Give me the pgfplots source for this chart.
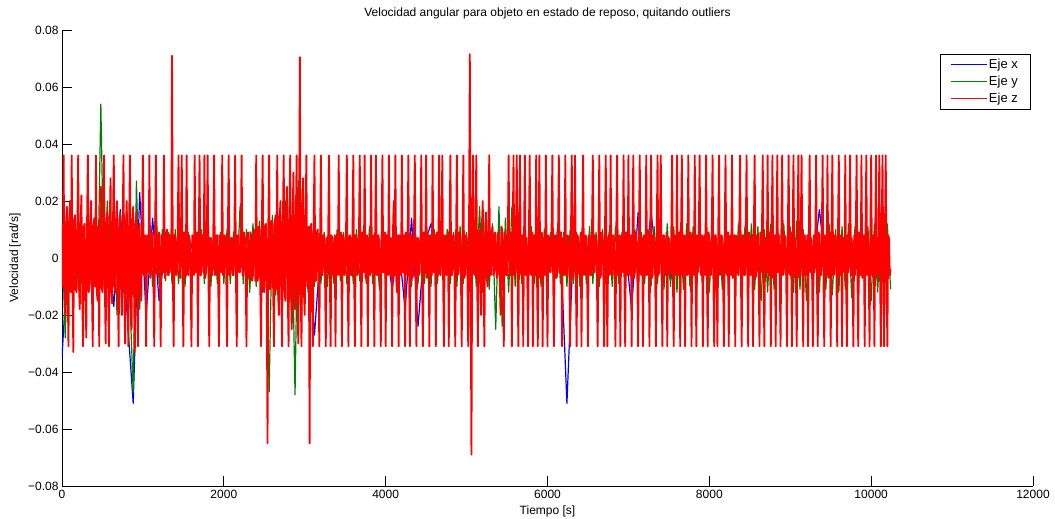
\documentclass[border=0pt]{standalone}
\usepackage{pgfplots}
\pgfplotsset{compat=1.18}
\usepackage{fontspec}
\setmainfont{Liberation Sans}
\definecolor{mblue}{rgb}{0,0,1}
\definecolor{mgreen}{rgb}{0,0.5,0}
\definecolor{mred}{rgb}{1,0,0}
\begin{document}
\begin{tikzpicture}
\path[use as bounding box] (-62bp,-33bp) rectangle (993bp,486bp);
\begin{axis}[
  at={(0,0)}, anchor=south west,
  scale only axis, width=971bp, height=456bp,
  xmin=0, xmax=12000, ymin=-0.08, ymax=0.08,
  scaled x ticks=false, scaled y ticks=false,
  axis x line*=bottom, axis y line*=left,
  axis line style={line width=0.8bp, black},
  tick align=inside,
  major tick length=10bp,
  tick style={line width=0.8bp, black},
  xtick={0,2000,4000,6000,8000,10000,12000},
  xticklabels={0,2000,4000,6000,8000,10000,12000},
  ytick={-0.08,-0.06,-0.04,-0.02,0,0.02,0.04,0.06,0.08},
  yticklabels={−0.08,−0.06,−0.04,−0.02,0,0.02,0.04,0.06,0.08},
  tick label style={font=\fontsize{12bp}{14bp}\selectfont},
  xticklabel style={yshift=-1bp},
  title={Velocidad angular para objeto en estado de reposo, quitando outliers},
  title style={at={(rel axis cs:0.5,1)}, anchor=center, yshift=11bp, font=\fontsize{12bp}{14bp}\selectfont},
  xlabel={Tiempo [s]},
  ylabel={Velocidad [rad/s]},
  every axis x label/.style={at={(rel axis cs:0.5,0)}, anchor=center, yshift=-25bp, font=\fontsize{12bp}{14bp}\selectfont},
  every axis y label/.style={at={(rel axis cs:0,0.5)}, anchor=center, xshift=-47bp, rotate=90, font=\fontsize{12bp}{14bp}\selectfont},
  legend style={at={(rel axis cs:0.997,0.947)}, anchor=north east, fill=white,
    font=\fontsize{13bp}{15bp}\selectfont, inner xsep=10bp, inner ysep=3bp, row sep=2bp, legend cell align=left},
  legend image code/.code={\draw[#1, line width=0.8bp] (0bp,0bp) -- (36bp,0bp);},
  every axis plot/.append style={line join=round, mark=none},
]
\addplot[color=mblue, draw=mblue, line width=1.2bp] coordinates {
(0,-0.035)(80,0.005)(160,-0.011)(240,0.01)(320,-0.005)(400,0.006)(480,-0.008)(560,0.008)(640,-0.017)(720,0.017)
(800,-0.018)(880,-0.051)(960,0.023)(1040,-0.02)(1120,0.014)(1200,-0.015)(1280,0.005)(1360,-0.005)(1440,0.005)(1520,-0.008)
(1600,0.005)(1680,-0.004)(1760,0.005)(1840,-0.004)(1920,0.005)(2000,-0.004)(2080,0.005)(2160,-0.004)(2240,0.005)(2320,-0.005)
(2400,0.006)(2480,-0.012)(2560,0.006)(2640,-0.006)(2720,0.007)(2800,-0.006)(2880,0.006)(2960,-0.01)(3040,0.006)(3120,-0.027)
(3200,0.005)(3280,-0.004)(3360,0.005)(3440,-0.004)(3520,0.005)(3600,-0.004)(3680,0.005)(3760,-0.004)(3840,0.005)(3920,-0.004)
(4000,0.005)(4080,-0.011)(4160,0.005)(4240,-0.018)(4320,0.014)(4400,-0.024)(4480,0.005)(4560,0.012)(4640,-0.004)(4720,0.008)
(4800,-0.004)(4880,0.005)(4960,-0.004)(5040,0.005)(5120,-0.004)(5200,0.005)(5280,-0.004)(5360,0.005)(5440,-0.004)(5520,0.005)
(5600,-0.004)(5680,0.005)(5760,-0.004)(5840,0.005)(5920,-0.004)(6000,0.005)(6080,-0.004)(6160,0.005)(6240,-0.051)(6320,0.005)
(6400,-0.004)(6480,0.005)(6560,-0.004)(6640,0.005)(6720,-0.004)(6800,0.005)(6880,-0.004)(6960,0.005)(7040,-0.018)(7120,0.016)
(7200,-0.004)(7280,0.016)(7360,-0.004)(7440,0.005)(7520,-0.008)(7600,0.005)(7680,-0.004)(7760,0.005)(7840,-0.004)(7920,0.005)
(8000,-0.004)(8080,0.005)(8160,-0.004)(8240,0.005)(8320,-0.004)(8400,0.005)(8480,-0.004)(8560,0.005)(8640,-0.004)(8720,0.005)
(8800,-0.004)(8880,0.005)(8960,-0.004)(9040,0.005)(9120,-0.004)(9200,0.005)(9280,-0.004)(9360,0.017)(9440,-0.004)(9520,0.005)
(9600,-0.004)(9680,0.005)(9760,-0.004)(9840,0.005)(9920,-0.004)(10000,0.005)(10080,-0.004)(10160,0.005)(10240,-0.006)
};
\addlegendentry{Eje x}
\addplot[color=mgreen, draw=mgreen, line width=1.2bp] coordinates {
(0,0.01)(40,-0.028)(80,0.013)(120,-0.012)(160,0.015)(200,-0.01)(240,0.012)(280,-0.015)(320,0.01)(360,-0.009)
(400,0.011)(440,-0.012)(480,0.054)(520,-0.01)(560,0.02)(600,-0.011)(640,0.014)(680,-0.02)(720,0.016)(760,-0.012)
(800,0.018)(840,-0.015)(880,-0.047)(920,0.027)(960,-0.018)(1000,0.012)(1040,-0.01)(1080,0.009)(1120,-0.01)(1160,0.02)
(1200,-0.009)(1240,0.01)(1280,-0.008)(1320,0.009)(1360,-0.009)(1400,0.01)(1440,-0.009)(1480,0.008)(1520,-0.01)(1560,0.009)
(1600,-0.009)(1640,0.009)(1680,-0.008)(1720,0.01)(1760,-0.009)(1800,0.018)(1840,-0.01)(1880,0.009)(1920,-0.009)(1960,0.009)
(2000,-0.009)(2040,0.01)(2080,-0.009)(2120,0.009)(2160,-0.01)(2200,0.018)(2240,-0.009)(2280,0.01)(2320,-0.012)(2360,0.012)
(2400,-0.01)(2440,0.013)(2480,-0.011)(2520,0.01)(2560,-0.047)(2600,0.015)(2640,-0.013)(2680,0.013)(2720,-0.015)(2760,0.02)
(2800,-0.018)(2840,0.015)(2880,-0.048)(2920,0.027)(2960,-0.02)(3000,0.015)(3040,-0.012)(3080,0.012)(3120,-0.01)(3160,0.01)
(3200,-0.009)(3240,0.009)(3280,-0.01)(3320,0.008)(3360,-0.009)(3400,0.01)(3440,-0.008)(3480,0.009)(3520,-0.009)(3560,0.008)
(3600,-0.009)(3640,0.01)(3680,-0.008)(3720,0.009)(3760,-0.009)(3800,0.011)(3840,-0.009)(3880,0.008)(3920,-0.01)(3960,0.009)
(4000,-0.009)(4040,0.01)(4080,-0.01)(4120,0.009)(4160,-0.011)(4200,0.01)(4240,-0.008)(4280,0.009)(4320,-0.01)(4360,0.008)
(4400,-0.009)(4440,0.011)(4480,-0.009)(4520,0.009)(4560,-0.01)(4600,0.01)(4640,-0.009)(4680,0.009)(4720,-0.008)(4760,0.01)
(4800,-0.009)(4840,0.009)(4880,-0.01)(4920,0.011)(4960,-0.009)(5000,0.009)(5040,-0.009)(5080,0.01)(5120,-0.01)(5160,0.018)
(5200,-0.012)(5240,0.014)(5280,-0.011)(5320,0.012)(5360,-0.025)(5400,0.018)(5440,-0.024)(5480,0.014)(5520,-0.012)(5560,0.018)
(5600,-0.01)(5640,0.01)(5680,-0.009)(5720,0.009)(5760,-0.01)(5800,0.011)(5840,-0.009)(5880,0.009)(5920,-0.01)(5960,0.01)
(6000,-0.009)(6040,0.009)(6080,-0.011)(6120,0.01)(6160,-0.009)(6200,0.009)(6240,-0.01)(6280,0.01)(6320,-0.009)(6360,0.009)
(6400,-0.01)(6440,0.01)(6480,-0.009)(6520,0.011)(6560,-0.009)(6600,0.009)(6640,-0.01)(6680,0.01)(6720,-0.009)(6760,0.009)
(6800,-0.01)(6840,0.011)(6880,-0.009)(6920,0.009)(6960,-0.01)(7000,0.01)(7040,-0.009)(7080,0.01)(7120,-0.011)(7160,0.009)
(7200,-0.009)(7240,0.01)(7280,-0.01)(7320,0.011)(7360,-0.009)(7400,0.01)(7440,-0.011)(7480,0.012)(7520,-0.01)(7560,0.011)
(7600,-0.012)(7640,0.01)(7680,-0.011)(7720,0.012)(7760,-0.01)(7800,0.011)(7840,-0.013)(7880,0.012)(7920,-0.011)(7960,0.01)
(8000,-0.012)(8040,0.011)(8080,-0.01)(8120,0.012)(8160,-0.011)(8200,0.011)(8240,-0.012)(8280,0.01)(8320,-0.011)(8360,0.012)
(8400,-0.013)(8440,0.011)(8480,-0.01)(8520,0.012)(8560,-0.011)(8600,0.011)(8640,-0.015)(8680,0.01)(8720,-0.012)(8760,0.012)
(8800,-0.011)(8840,0.011)(8880,-0.013)(8920,0.012)(8960,-0.01)(9000,0.011)(9040,-0.012)(9080,0.013)(9120,-0.011)(9160,0.01)
(9200,-0.015)(9240,0.012)(9280,-0.011)(9320,0.011)(9360,-0.012)(9400,0.014)(9440,-0.011)(9480,0.012)(9520,-0.013)(9560,0.01)
(9600,-0.012)(9640,0.011)(9680,-0.011)(9720,0.012)(9760,-0.014)(9800,0.011)(9840,-0.012)(9880,0.013)(9920,-0.011)(9960,0.011)
(10000,-0.015)(10040,0.012)(10080,-0.012)(10120,0.011)(10160,-0.016)(10200,0.012)(10240,-0.011)
};
\addlegendentry{Eje y}
\addplot[color=mred, draw=mred, line width=1.8bp] coordinates {
(0,0.012)(10,-0.01)(20,0.036)(30,-0.012)(40,-0.02)(50,0.012)(60,0.018)(70,-0.01)(80,-0.031)(90,0.014)(100,0.02)(110,-0.012)(120,0.036)(130,-0.01)(140,-0.033)(150,0.013)(160,0.015)(170,-0.011)(180,-0.012)(190,0.012)
(200,0.036)(210,-0.01)(220,-0.018)(230,0.012)(240,0.022)(250,-0.012)(260,-0.031)(270,0.011)(280,0.012)(290,-0.01)(300,-0.028)(310,0.013)(320,0.036)(330,-0.012)(340,-0.01)(350,0.012)(360,0.02)(370,-0.011)(380,-0.031)(390,0.012)
(400,0.014)(410,-0.01)(420,0.036)(430,-0.012)(440,-0.015)(450,0.011)(460,-0.031)(470,0.012)(480,0.025)(490,-0.01)(500,-0.012)(510,0.013)(520,0.036)(530,-0.011)(540,-0.03)(550,0.012)(560,0.016)(570,-0.01)(580,-0.031)(590,0.012)
(600,0.028)(610,-0.012)(620,-0.016)(630,0.011)(640,0.036)(650,-0.01)(660,-0.012)(670,0.012)(680,0.02)(690,-0.011)(700,-0.031)(710,0.013)(720,0.015)(730,-0.01)(740,-0.02)(750,0.012)(760,0.036)(770,-0.012)(780,-0.03)(790,0.011)
(800,0.02)(810,-0.01)(820,-0.031)(830,0.012)(840,0.036)(850,-0.011)(860,-0.025)(870,0.012)(880,0.018)(890,-0.01)(900,-0.033)(910,0.012)(920,0.016)(930,-0.01)(940,-0.031)(950,0.01)(960,0.012)(970,-0.009)(980,-0.015)(990,0.01)
(1000,0.036)(1010,-0.006)(1020,-0.006)(1030,0.008)(1040,-0.031)(1050,0.007)(1060,0.008)(1070,-0.005)(1080,0.036)(1090,-0.007)(1100,-0.005)(1110,0.009)(1120,0.007)(1130,-0.006)(1140,-0.031)(1150,0.008)(1160,0.036)(1170,-0.005)(1180,-0.006)(1190,0.007)
(1200,0.009)(1210,-0.006)(1220,-0.031)(1230,0.008)(1240,0.007)(1250,-0.005)(1260,0.036)(1270,-0.007)(1280,-0.005)(1290,0.009)(1300,0.01)(1310,-0.006)(1320,-0.006)(1330,0.008)(1340,0.006)(1350,-0.005)(1360,0.071)(1370,-0.006)(1380,-0.031)(1390,0.008)
(1400,0.007)(1410,-0.006)(1420,-0.005)(1430,0.008)(1440,0.036)(1450,-0.005)(1460,-0.007)(1470,0.007)(1480,0.036)(1490,-0.006)(1500,-0.031)(1510,0.009)(1520,0.008)(1530,-0.006)(1540,0.036)(1550,-0.005)(1560,-0.006)(1570,0.008)(1580,0.006)(1590,-0.007)
(1600,-0.031)(1610,0.008)(1620,0.007)(1630,-0.006)(1640,0.036)(1650,-0.005)(1660,-0.005)(1670,0.009)(1680,-0.031)(1690,0.007)(1700,0.036)(1710,-0.006)(1720,-0.006)(1730,0.008)(1740,0.008)(1750,-0.005)(1760,0.036)(1770,-0.007)(1780,-0.005)(1790,0.008)
(1800,0.036)(1810,-0.006)(1820,-0.031)(1830,0.007)(1840,0.007)(1850,-0.005)(1860,-0.006)(1870,0.009)(1880,0.036)(1890,-0.006)(1900,-0.005)(1910,0.008)(1920,0.008)(1930,-0.007)(1940,-0.031)(1950,0.008)(1960,0.006)(1970,-0.005)(1980,0.036)(1990,-0.006)
(2000,-0.006)(2010,0.008)(2020,0.007)(2030,-0.005)(2040,-0.031)(2050,0.009)(2060,0.036)(2070,-0.006)(2080,-0.005)(2090,0.007)(2100,0.007)(2110,-0.006)(2120,-0.006)(2130,0.008)(2140,0.036)(2150,-0.007)(2160,-0.031)(2170,0.008)(2180,0.008)(2190,-0.005)
(2200,-0.005)(2210,0.008)(2220,0.036)(2230,-0.006)(2240,-0.006)(2250,0.009)(2260,0.007)(2270,-0.005)(2280,-0.031)(2290,0.008)(2300,0.009)(2310,-0.007)(2320,-0.007)(2330,0.009)(2340,0.007)(2350,-0.008)(2360,-0.006)(2370,0.01)(2380,0.008)(2390,-0.008)
(2400,0.036)(2410,-0.008)(2420,-0.008)(2430,0.011)(2440,0.01)(2450,-0.009)(2460,-0.031)(2470,0.012)(2480,0.036)(2490,-0.01)(2500,-0.012)(2510,0.011)(2520,0.012)(2530,-0.01)(2540,-0.065)(2550,0.012)(2560,0.036)(2570,-0.011)(2580,-0.01)(2590,0.013)
(2600,0.012)(2610,-0.012)(2620,-0.031)(2630,0.013)(2640,0.015)(2650,-0.011)(2660,0.036)(2670,-0.012)(2680,-0.02)(2690,0.014)(2700,0.02)(2710,-0.012)(2720,-0.031)(2730,0.013)(2740,0.036)(2750,-0.011)(2760,-0.015)(2770,0.014)(2780,0.025)(2790,-0.012)
(2800,-0.031)(2810,0.013)(2820,0.036)(2830,-0.012)(2840,-0.025)(2850,0.014)(2860,0.03)(2870,-0.013)(2880,-0.018)(2890,0.014)(2900,0.036)(2910,-0.012)(2920,-0.03)(2930,0.013)(2940,0.0705)(2950,-0.012)(2960,-0.031)(2970,0.014)(2980,0.028)(2990,-0.012)
(3000,-0.02)(3010,0.012)(3020,0.036)(3030,-0.01)(3040,-0.01)(3050,0.011)(3060,-0.065)(3070,0.01)(3080,0.012)(3090,-0.009)(3100,-0.031)(3110,0.01)(3120,0.036)(3130,-0.008)(3140,-0.008)(3150,0.009)(3160,0.01)(3170,-0.007)(3180,-0.031)(3190,0.008)
(3200,0.036)(3210,-0.006)(3220,-0.006)(3230,0.008)(3240,0.008)(3250,-0.005)(3260,-0.031)(3270,0.007)(3280,-0.005)(3290,0.009)(3300,0.036)(3310,-0.006)(3320,-0.031)(3330,0.008)(3340,0.007)(3350,-0.005)(3360,-0.007)(3370,0.008)(3380,-0.031)(3390,0.007)
(3400,0.008)(3410,-0.006)(3420,0.036)(3430,-0.005)(3440,-0.006)(3450,0.009)(3460,-0.031)(3470,0.008)(3480,0.007)(3490,-0.006)(3500,-0.005)(3510,0.008)(3520,0.036)(3530,-0.007)(3540,-0.031)(3550,0.007)(3560,0.008)(3570,-0.006)(3580,-0.006)(3590,0.009)
(3600,0.036)(3610,-0.005)(3620,-0.031)(3630,0.008)(3640,0.007)(3650,-0.006)(3660,-0.005)(3670,0.008)(3680,0.036)(3690,-0.006)(3700,-0.031)(3710,0.009)(3720,0.008)(3730,-0.005)(3740,0.036)(3750,-0.007)(3760,-0.006)(3770,0.008)(3780,-0.031)(3790,0.007)
(3800,0.007)(3810,-0.006)(3820,0.036)(3830,-0.005)(3840,-0.005)(3850,0.008)(3860,-0.031)(3870,0.009)(3880,0.036)(3890,-0.006)(3900,-0.006)(3910,0.008)(3920,0.006)(3930,-0.007)(3940,-0.031)(3950,0.008)(3960,0.036)(3970,-0.005)(3980,-0.005)(3990,0.009)
(4000,-0.031)(4010,0.008)(4020,0.008)(4030,-0.006)(4040,0.036)(4050,-0.005)(4060,-0.006)(4070,0.007)(4080,-0.031)(4090,0.009)(4100,0.02)(4110,-0.006)(4120,0.036)(4130,-0.007)(4140,-0.012)(4150,0.008)(4160,-0.031)(4170,0.008)(4180,0.007)(4190,-0.006)
(4200,0.036)(4210,-0.005)(4220,-0.005)(4230,0.008)(4240,-0.031)(4250,0.009)(4260,0.007)(4270,-0.006)(4280,0.036)(4290,-0.006)(4300,-0.031)(4310,0.008)(4320,0.008)(4330,-0.007)(4340,-0.006)(4350,0.008)(4360,0.036)(4370,-0.005)(4380,-0.031)(4390,0.007)
(4400,0.007)(4410,-0.006)(4420,-0.005)(4430,0.008)(4440,0.036)(4450,-0.006)(4460,-0.031)(4470,0.009)(4480,0.006)(4490,-0.005)(4500,0.036)(4510,-0.007)(4520,-0.006)(4530,0.008)(4540,-0.031)(4550,0.008)(4560,0.007)(4570,-0.006)(4580,0.036)(4590,-0.005)
(4600,-0.005)(4610,0.008)(4620,-0.031)(4630,0.009)(4640,0.008)(4650,-0.006)(4660,0.036)(4670,-0.005)(4680,-0.006)(4690,0.008)(4700,0.036)(4710,-0.007)(4720,-0.031)(4730,0.008)(4740,0.007)(4750,-0.006)(4760,-0.005)(4770,0.009)(4780,-0.031)(4790,0.008)
(4800,0.036)(4810,-0.006)(4820,-0.006)(4830,0.008)(4840,0.008)(4850,-0.005)(4860,-0.031)(4870,0.007)(4880,0.036)(4890,-0.006)(4900,-0.005)(4910,0.009)(4920,0.007)(4930,-0.006)(4940,-0.031)(4950,0.008)(4960,0.036)(4970,-0.007)(4980,-0.006)(4990,0.008)
(5000,0.007)(5010,-0.006)(5020,-0.031)(5030,0.008)(5040,0.0715)(5050,-0.006)(5060,-0.069)(5070,0.009)(5080,0.036)(5090,-0.005)(5100,-0.006)(5110,0.008)(5120,0.036)(5130,-0.006)(5140,-0.031)(5150,0.01)(5160,0.009)(5170,-0.008)(5180,-0.02)(5190,0.012)
(5200,0.02)(5210,-0.008)(5220,-0.031)(5230,0.011)(5240,0.016)(5250,-0.007)(5260,-0.01)(5270,0.01)(5280,0.036)(5290,-0.006)(5300,-0.006)(5310,0.009)(5320,0.011)(5330,-0.006)(5340,-0.005)(5350,0.009)(5360,0.008)(5370,-0.007)(5380,-0.006)(5390,0.009)
(5400,0.007)(5410,-0.008)(5420,-0.02)(5430,0.011)(5440,0.01)(5450,-0.007)(5460,-0.031)(5470,0.009)(5480,0.008)(5490,-0.006)(5500,-0.006)(5510,0.008)(5520,0.036)(5530,-0.005)(5540,-0.006)(5550,0.009)(5560,-0.031)(5570,0.008)(5580,0.036)(5590,-0.006)
(5600,-0.005)(5610,0.008)(5620,0.036)(5630,-0.006)(5640,-0.031)(5650,0.009)(5660,0.036)(5670,-0.005)(5680,-0.006)(5690,0.008)(5700,-0.031)(5710,0.007)(5720,0.036)(5730,-0.006)(5740,0.007)(5750,-0.007)(5760,-0.031)(5770,0.008)(5780,0.036)(5790,-0.005)
(5800,-0.006)(5810,0.009)(5820,-0.031)(5830,0.008)(5840,0.008)(5850,-0.006)(5860,0.036)(5870,-0.005)(5880,-0.031)(5890,0.008)(5900,0.036)(5910,-0.007)(5920,-0.005)(5930,0.009)(5940,-0.031)(5950,0.007)(5960,0.007)(5970,-0.006)(5980,0.036)(5990,-0.006)
(6000,-0.031)(6010,0.008)(6020,0.007)(6030,-0.005)(6040,-0.005)(6050,0.009)(6060,0.036)(6070,-0.006)(6080,-0.031)(6090,0.008)(6100,0.008)(6110,-0.007)(6120,-0.006)(6130,0.008)(6140,0.036)(6150,-0.005)(6160,-0.005)(6170,0.009)(6180,-0.031)(6190,0.007)
(6200,0.007)(6210,-0.006)(6220,0.036)(6230,-0.006)(6240,-0.006)(6250,0.008)(6260,0.006)(6270,-0.005)(6280,-0.031)(6290,0.009)(6300,0.036)(6310,-0.007)(6320,-0.005)(6330,0.008)(6340,0.036)(6350,-0.006)(6360,-0.031)(6370,0.008)(6380,0.007)(6390,-0.005)
(6400,-0.006)(6410,0.009)(6420,-0.031)(6430,0.007)(6440,0.036)(6450,-0.006)(6460,-0.005)(6470,0.008)(6480,0.007)(6490,-0.007)(6500,-0.031)(6510,0.008)(6520,0.008)(6530,-0.006)(6540,-0.006)(6550,0.009)(6560,0.036)(6570,-0.005)(6580,-0.005)(6590,0.008)
(6600,0.007)(6610,-0.006)(6620,-0.031)(6630,0.008)(6640,0.036)(6650,-0.007)(6660,-0.006)(6670,0.009)(6680,0.007)(6690,-0.005)(6700,-0.031)(6710,0.008)(6720,0.036)(6730,-0.006)(6740,-0.031)(6750,0.007)(6760,0.008)(6770,-0.006)(6780,0.036)(6790,-0.005)
(6800,-0.006)(6810,0.008)(6820,0.007)(6830,-0.007)(6840,-0.031)(6850,0.009)(6860,0.036)(6870,-0.006)(6880,-0.005)(6890,0.008)(6900,-0.031)(6910,0.007)(6920,0.008)(6930,-0.005)(6940,0.036)(6950,-0.006)(6960,-0.031)(6970,0.009)(6980,0.007)(6990,-0.006)
(7000,0.036)(7010,-0.005)(7020,-0.006)(7030,0.008)(7040,-0.031)(7050,0.008)(7060,0.036)(7070,-0.007)(7080,-0.005)(7090,0.009)(7100,0.007)(7110,-0.006)(7120,-0.031)(7130,0.008)(7140,0.036)(7150,-0.005)(7160,-0.006)(7170,0.007)(7180,-0.031)(7190,0.008)
(7200,0.008)(7210,-0.006)(7220,0.036)(7230,-0.006)(7240,-0.005)(7250,0.009)(7260,-0.031)(7270,0.008)(7280,0.036)(7290,-0.007)(7300,-0.006)(7310,0.008)(7320,0.007)(7330,-0.005)(7340,-0.031)(7350,0.009)(7360,0.036)(7370,-0.006)(7380,-0.005)(7390,0.008)
(7400,0.036)(7410,-0.006)(7420,-0.031)(7430,0.008)(7440,0.008)(7450,-0.005)(7460,-0.006)(7470,0.009)(7480,-0.031)(7490,0.007)(7500,0.007)(7510,-0.006)(7520,-0.005)(7530,0.008)(7540,0.036)(7550,-0.007)(7560,-0.031)(7570,0.008)(7580,0.007)(7590,-0.006)
(7600,0.036)(7610,-0.005)(7620,-0.006)(7630,0.009)(7640,-0.031)(7650,0.008)(7660,0.036)(7670,-0.006)(7680,-0.005)(7690,0.008)(7700,-0.031)(7710,0.007)(7720,0.008)(7730,-0.006)(7740,0.036)(7750,-0.005)(7760,-0.006)(7770,0.009)(7780,-0.031)(7790,0.008)
(7800,0.007)(7810,-0.006)(7820,0.036)(7830,-0.007)(7840,-0.031)(7850,0.008)(7860,-0.005)(7870,0.009)(7880,0.036)(7890,-0.005)(7900,-0.006)(7910,0.008)(7920,-0.031)(7930,0.007)(7940,0.008)(7950,-0.006)(7960,0.036)(7970,-0.005)(7980,-0.031)(7990,0.009)
(8000,0.007)(8010,-0.006)(8020,-0.006)(8030,0.008)(8040,0.036)(8050,-0.007)(8060,-0.031)(8070,0.008)(8080,0.008)(8090,-0.005)(8100,-0.031)(8110,0.009)(8120,0.036)(8130,-0.006)(8140,-0.005)(8150,0.008)(8160,0.007)(8170,-0.006)(8180,-0.031)(8190,0.008)
(8200,0.036)(8210,-0.005)(8220,-0.006)(8230,0.009)(8240,-0.031)(8250,0.007)(8260,0.008)(8270,-0.006)(8280,0.036)(8290,-0.007)(8300,-0.005)(8310,0.008)(8320,-0.031)(8330,0.008)(8340,0.007)(8350,-0.005)(8360,-0.006)(8370,0.009)(8380,0.036)(8390,-0.006)
(8400,-0.031)(8410,0.008)(8420,0.008)(8430,-0.006)(8440,-0.006)(8450,0.007)(8460,0.036)(8470,-0.005)(8480,-0.031)(8490,0.009)(8500,0.007)(8510,-0.006)(8520,-0.005)(8530,0.008)(8540,-0.031)(8550,0.008)(8560,0.036)(8570,-0.007)(8580,-0.006)(8590,0.008)
(8600,0.008)(8610,-0.006)(8620,-0.031)(8630,0.009)(8640,-0.005)(8650,0.008)(8660,0.036)(8670,-0.006)(8680,-0.031)(8690,0.007)(8700,0.007)(8710,-0.005)(8720,0.036)(8730,-0.006)(8740,-0.006)(8750,0.009)(8760,-0.031)(8770,0.008)(8780,0.036)(8790,-0.007)
(8800,-0.006)(8810,0.008)(8820,-0.031)(8830,0.008)(8840,0.036)(8850,-0.005)(8860,0.008)(8870,-0.006)(8880,-0.031)(8890,0.009)(8900,0.036)(8910,-0.006)(8920,-0.005)(8930,0.008)(8940,0.007)(8950,-0.007)(8960,-0.031)(8970,0.008)(8980,0.036)(8990,-0.005)
(9000,-0.006)(9010,0.009)(9020,-0.031)(9030,0.008)(9040,0.036)(9050,-0.006)(9060,0.007)(9070,-0.005)(9080,-0.031)(9090,0.008)(9100,0.036)(9110,-0.007)(9120,-0.005)(9130,0.009)(9140,0.036)(9150,-0.006)(9160,-0.031)(9170,0.008)(9180,0.008)(9190,-0.006)
(9200,-0.006)(9210,0.008)(9220,-0.031)(9230,0.009)(9240,0.036)(9250,-0.005)(9260,0.007)(9270,-0.006)(9280,-0.031)(9290,0.008)(9300,-0.005)(9310,0.008)(9320,0.036)(9330,-0.007)(9340,-0.031)(9350,0.009)(9360,0.008)(9370,-0.006)(9380,-0.006)(9390,0.008)
(9400,0.036)(9410,-0.005)(9420,-0.031)(9430,0.008)(9440,0.007)(9450,-0.006)(9460,0.036)(9470,-0.007)(9480,-0.005)(9490,0.009)(9500,-0.031)(9510,0.008)(9520,0.036)(9530,-0.006)(9540,-0.006)(9550,0.008)(9560,0.008)(9570,-0.005)(9580,-0.031)(9590,0.009)
(9600,0.036)(9610,-0.006)(9620,-0.006)(9630,0.008)(9640,-0.031)(9650,0.007)(9660,0.007)(9670,-0.005)(9680,0.036)(9690,-0.007)(9700,-0.031)(9710,0.008)(9720,-0.005)(9730,0.009)(9740,0.036)(9750,-0.006)(9760,0.007)(9770,-0.006)(9780,-0.031)(9790,0.008)
(9800,-0.006)(9810,0.008)(9820,0.036)(9830,-0.005)(9840,-0.031)(9850,0.009)(9860,0.008)(9870,-0.006)(9880,0.036)(9890,-0.007)(9900,-0.005)(9910,0.008)(9920,-0.031)(9930,0.008)(9940,0.036)(9950,-0.006)(9960,0.007)(9970,-0.005)(9980,-0.031)(9990,0.009)
(10000,0.036)(10010,-0.006)(10020,-0.006)(10030,0.008)(10040,-0.031)(10050,0.008)(10060,0.036)(10070,-0.007)(10080,0.007)(10090,-0.005)(10100,0.036)(10110,-0.006)(10120,-0.031)(10130,0.009)(10140,0.036)(10150,-0.006)(10160,-0.031)(10170,0.008)(10180,0.036)(10190,-0.005)
(10200,-0.031)(10210,0.008)(10220,0.007)(10230,-0.006)(10240,-0.004)
};
\addlegendentry{Eje z}
\end{axis}
\end{tikzpicture}
\end{document}
